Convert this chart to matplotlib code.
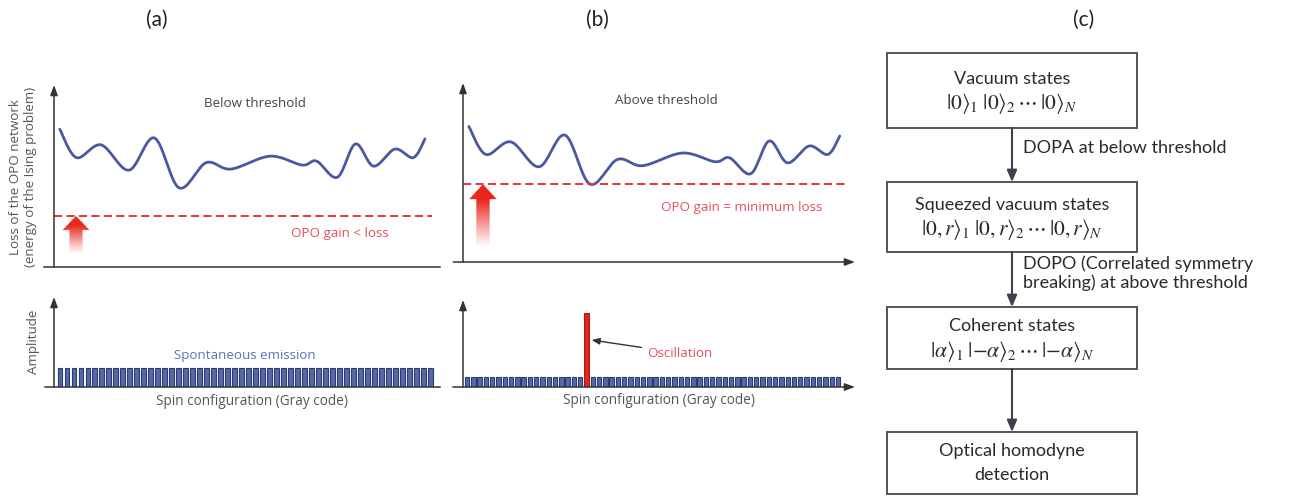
import numpy as np
import matplotlib
matplotlib.use("Agg")
import matplotlib.pyplot as plt
from matplotlib.patches import FancyArrow, Rectangle

plt.rcParams['font.family'] = ['Open Sans', 'DejaVu Sans']
plt.rcParams['mathtext.fontset'] = 'stix'

# loss landscape (a)/(b) (x: spin configuration, y: loss, both 0..100)
landscape_x = [1.5, 5.8, 12.2, 19.4, 26.0, 32.4, 39.4, 45.8, 56.0, 64.3, 68.0, 73.4, 78.1, 82.8, 88.3, 93.1, 96.1]
landscape_y = [75.7, 60.1, 67.1, 53.2, 70.9, 43.5, 57.3, 53.8, 60.9, 56.0, 58.2, 49.3, 67.6, 55.4, 64.8, 60.1, 70.4]
gain_below = 28.0          # OPO gain < loss
gain_above = min(landscape_y)  # OPO gain = minimum loss

# amplitudes per spin configuration
amp_below = [21] * 54
amp_above = [11.5] * 60
osc_index = 19
osc_amp = 85

flow_boxes = [
    ("Vacuum states", r"$|0\rangle_1\;|0\rangle_2\,\cdots\,|0\rangle_N$"),
    ("Squeezed vacuum states", r"$|0,r\rangle_1\;|0,r\rangle_2\,\cdots\,|0,r\rangle_N$"),
    ("Coherent states", r"$|\alpha\rangle_1\;|{-\alpha}\rangle_2\,\cdots\,|{-\alpha}\rangle_N$"),
    ("Optical homodyne", "detection"),
]
flow_steps = ["DOPA at below threshold", "DOPO (Correlated symmetry\nbreaking) at above threshold", ""]

W, H = 1300, 496
AX_C = '#333333'
CURVE_C = '#4a58a2'
RED = '#e8333a'
RED_TXT = '#e0505e'
BAR_C = '#5668aa'
BAR_E = '#2b3a70'
LBL = 9.6

fig = plt.figure(figsize=(13, 4.96), dpi=100)


def px_axes(l, r, t, b):
    return fig.add_axes([l / W, 1 - b / H, (r - l) / W, (b - t) / H])


def smooth(x, y, n=20):
    # Catmull-Rom through the read points, only for drawing
    x = np.asarray(x, float); y = np.asarray(y, float)
    px = np.concatenate([[x[0]], x, [x[-1]]])
    py = np.concatenate([[y[0]], y, [y[-1]]])
    xs, ys = [], []
    t = np.linspace(0, 1, n, endpoint=False)
    for i in range(1, len(px) - 2):
        for arr, out in ((px, xs), (py, ys)):
            p0, p1, p2, p3 = arr[i - 1], arr[i], arr[i + 1], arr[i + 2]
            out.extend(0.5 * (2 * p1 + (-p0 + p2) * t + (2 * p0 - 5 * p1 + 4 * p2 - p3) * t ** 2
                              + (-p0 + 3 * p1 - 3 * p2 + p3) * t ** 3))
    xs.append(x[-1]); ys.append(y[-1])
    return np.array(xs), np.array(ys)


def draw_axes_lines(ax, x_arrow, x_start=-0.025):
    ax.set_axis_off()
    ax.annotate('', xy=(0, 1), xytext=(0, 0), xycoords='axes fraction',
                arrowprops=dict(arrowstyle='-|>,head_length=0.6,head_width=0.22', color=AX_C, lw=1.1,
                                shrinkA=0, shrinkB=0))
    if x_arrow:
        ax.annotate('', xy=(1, 0), xytext=(x_start, 0), xycoords='axes fraction',
                    arrowprops=dict(arrowstyle='-|>,head_length=0.6,head_width=0.22', color=AX_C, lw=1.1,
                                    shrinkA=0, shrinkB=0))
    else:
        ax.plot([x_start, 1], [0, 0], transform=ax.transAxes, color=AX_C, lw=1.1, clip_on=False)


def gain_arrow(ax, x, top, bottom, hw, hl, sw):
    arr = FancyArrow(x, bottom, 0, top - bottom, width=sw, head_width=hw, head_length=hl,
                     length_includes_head=True, fc='none', ec='none')
    ax.add_patch(arr)
    ny = 200
    a = np.clip((np.linspace(0, 1, ny) - 0.05) / 0.7, 0, 1) ** 1.1
    img = np.zeros((ny, 1, 4))
    img[..., 0] = 0.92; img[..., 1] = 0.15; img[..., 2] = 0.12
    img[:, 0, 3] = a
    im = ax.imshow(img, extent=(x - hw / 2, x + hw / 2, bottom, top), origin='lower',
                   aspect='auto', interpolation='bilinear', zorder=3)
    im.set_clip_path(arr)


def loss_panel(l, r, t, b, threshold, title, gain_text, gain_xy, arrow_x, hl, x_arrow):
    ax = px_axes(l, r, t, b)
    sx, sy = smooth(landscape_x, landscape_y)
    ax.plot(sx, sy, color=CURVE_C, lw=2.0, solid_capstyle='round')
    ax.axhline(threshold, xmin=0.0, xmax=0.98, color=RED, lw=1.4, dashes=(4.2, 2.2))
    gain_arrow(ax, arrow_x, threshold, 6.0, 7.0, hl, 3.4)
    ax.text(52, 90, title, ha='center', va='center', fontsize=LBL, color='#444444')
    ax.text(gain_xy[0], gain_xy[1], gain_text, ha='center', va='center', fontsize=LBL, color=RED_TXT)
    ax.set_xlim(0, 100); ax.set_ylim(0, 100)
    draw_axes_lines(ax, x_arrow)
    return ax


loss_panel(54, 440, 85, 267, gain_below, 'Below threshold', 'OPO gain < loss', (74, 18.5), 5.7, 7.7, False)
loss_panel(463, 855, 83, 262, gain_above, 'Above threshold', 'OPO gain = minimum loss', (71, 30.5), 5.1, 8.4, True)

# amplitude panels
axa = px_axes(54, 440, 297, 387)
axa.bar(np.arange(len(amp_below)), amp_below, width=0.7, color=BAR_C, edgecolor=BAR_E, lw=0.8)
axa.set_xlim(-0.86, 54.4); axa.set_ylim(0, 100)
axa.text(26.5, 35, 'Spontaneous emission', ha='center', va='center', fontsize=LBL, color='#6070b8')
axa.text(27.5, -16, 'Spin configuration (Gray code)', ha='center', va='center', fontsize=9.8, color='#555555')
draw_axes_lines(axa, False, x_start=-0.023)

axb = px_axes(463, 855, 300, 387)
xb = np.arange(len(amp_above))
cols = [BAR_C] * len(amp_above)
heights = list(amp_above)
heights[osc_index] = osc_amp
cols[osc_index] = '#d62a20'
edges = [BAR_E] * len(amp_above)
edges[osc_index] = '#b01a14'
axb.bar(xb, heights, width=0.7, color=cols, edgecolor=edges, lw=0.8)
axb.set_xlim(-0.64, 61.7); axb.set_ylim(0, 100)
axb.annotate('Oscillation', xy=(osc_index + 0.8, 54), xytext=(28.6, 39), ha='left', va='center',
             fontsize=LBL, color=RED_TXT,
             arrowprops=dict(arrowstyle='-|>,head_length=0.5,head_width=0.2', color=AX_C, lw=1.0,
                             shrinkA=2, shrinkB=0))
axb.text(30.5, -15, 'Spin configuration (Gray code)', ha='center', va='center', fontsize=9.8, color='#555555')
draw_axes_lines(axb, True, x_start=-0.026)

# overlay for labels and flowchart (pixel coordinates)
ov = fig.add_axes([0, 0, 1, 1], facecolor='none')
ov.set_xlim(0, W); ov.set_ylim(H, 0); ov.set_axis_off()

for lab, x in (('(a)', 157), ('(b)', 597), ('(c)', 1084)):
    ov.text(x, 20, lab, ha='center', va='center', fontsize=15, family=['Lato', 'DejaVu Sans'], color='#222222')

ov.text(23, 177, 'Loss of the OPO network\n(energy of the Ising problem)', rotation=90,
        ha='center', va='center', fontsize=9.6, color='#555555', linespacing=1.2)
ov.text(33, 342, 'Amplitude', rotation=90, ha='center', va='center', fontsize=9.6, color='#555555')

box_y = [(53, 128), (182, 252), (307, 369), (432, 494)]
bx0, bx1 = 887, 1137
cx = (bx0 + bx1) / 2
flow_font = ['Lato', 'DejaVu Sans']
for (top, bot), (l1, l2) in zip(box_y, flow_boxes):
    ov.add_patch(Rectangle((bx0, top), bx1 - bx0, bot - top, fill=False, ec='#555555', lw=1.4))
    mid = (top + bot) / 2
    math = l2.startswith('$')
    ov.text(cx, mid - 12, l1, ha='center', va='center', fontsize=13, family=flow_font, color='#2a2a2a')
    ov.text(cx, mid + (13 if math else 12), l2, ha='center', va='center', fontsize=15.5 if math else 13,
            family=flow_font, color='#2a2a2a')

for i, step in enumerate(flow_steps):
    y0 = box_y[i][1]; y1 = box_y[i + 1][0]
    ov.annotate('', xy=(cx, y1), xytext=(cx, y0),
                arrowprops=dict(arrowstyle='-|>,head_length=0.7,head_width=0.3', color='#3c4150', lw=1.5,
                                shrinkA=0, shrinkB=0))
    if step:
        ov.text(1023, y0 + 20 if i == 0 else y0 + 21, step, ha='left', va='center', fontsize=13,
                family=flow_font, color='#2a2a2a', linespacing=1.2)

fig.savefig('out.png', dpi=100)
